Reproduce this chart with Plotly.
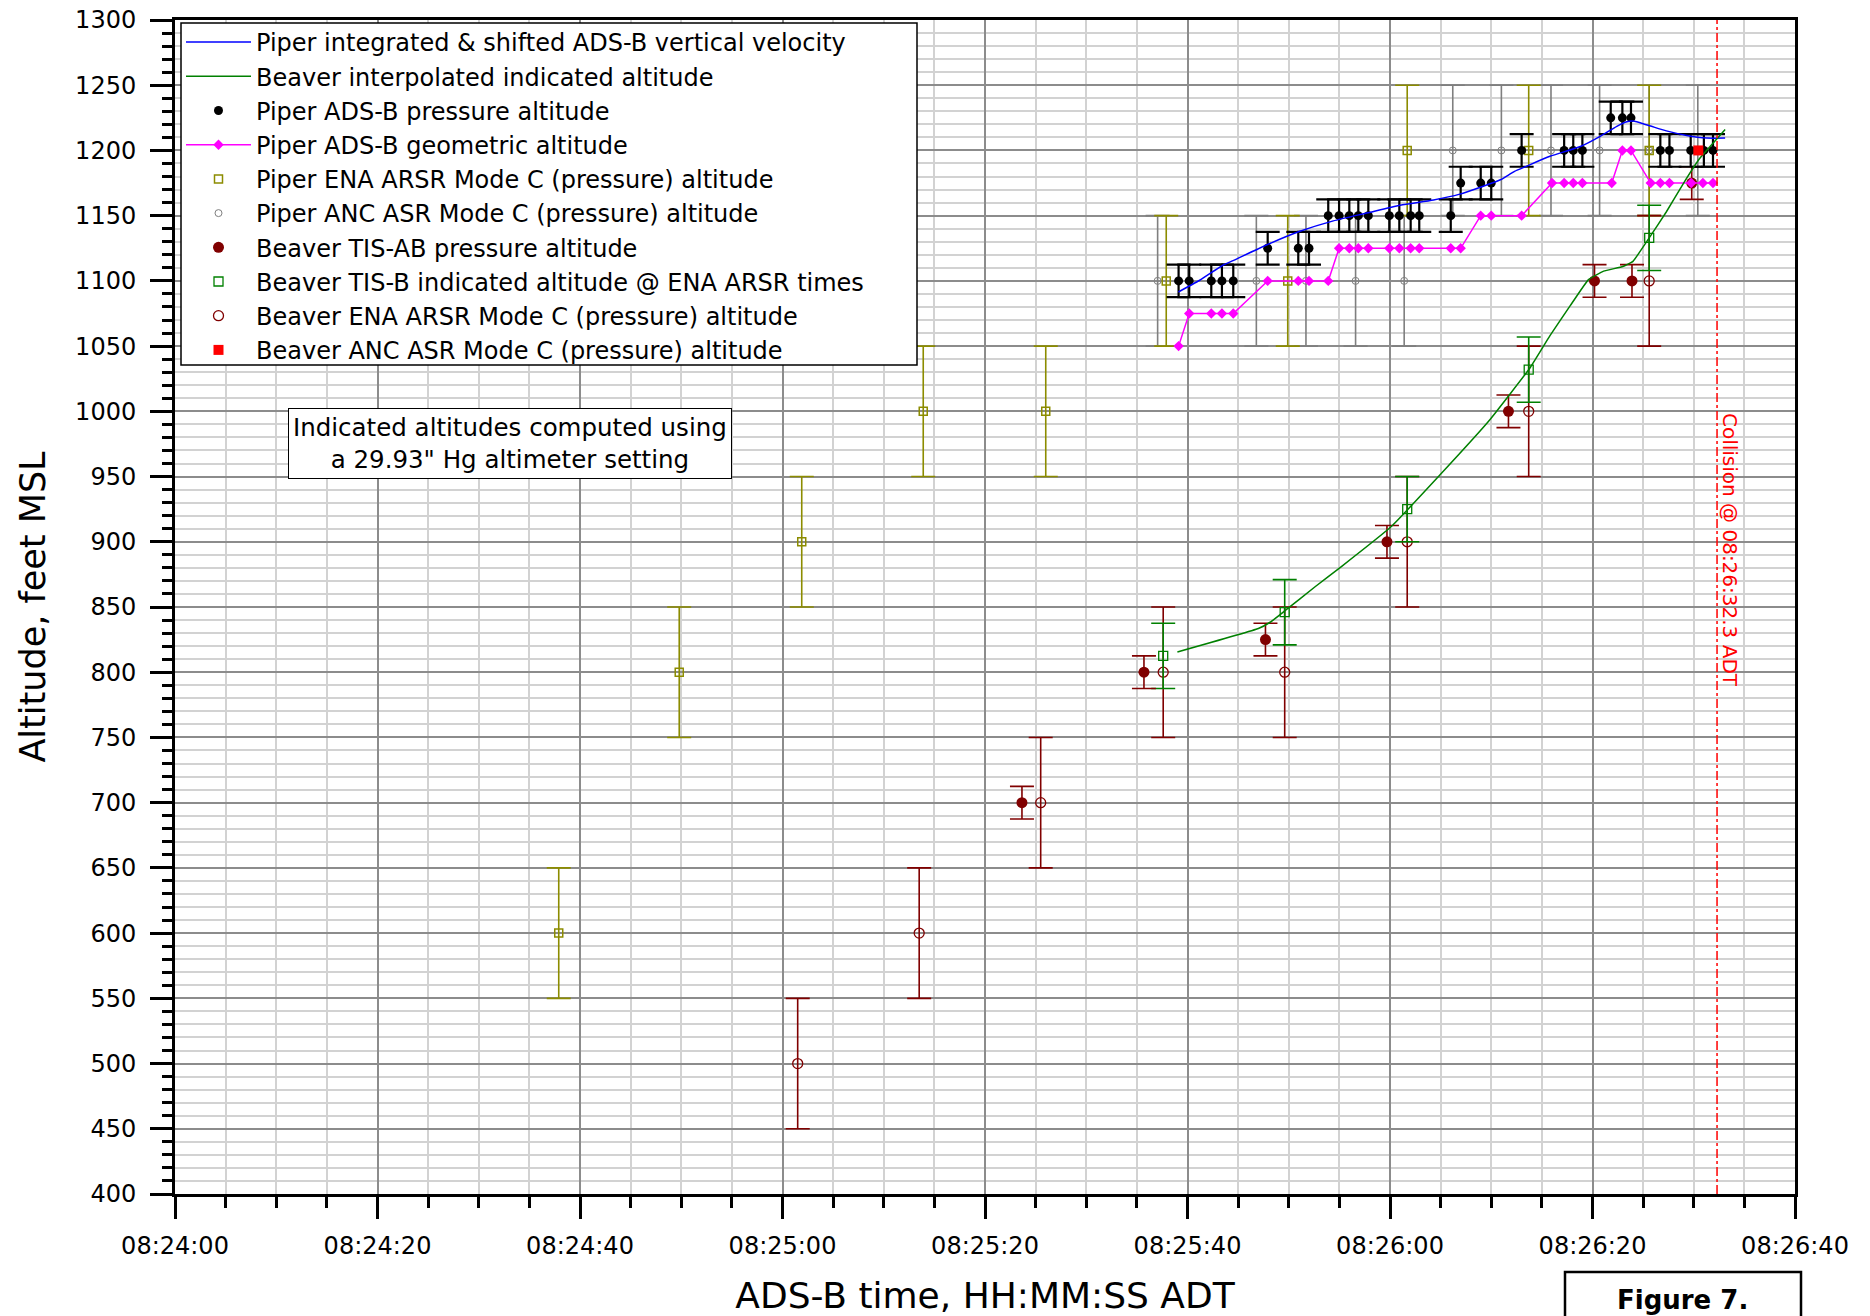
import plotly.graph_objects as go

DAY = "2020-07-31 "
FONT = "DejaVu Sans"

# ---------------- data (clock times ADT, altitudes in feet) ----------------
PIPER_VV_T = ["08:25:39.1", "08:25:41.2", "08:25:43.5", "08:25:44.5", "08:25:47.8", "08:25:51.1",
              "08:25:54.4", "08:25:57.7", "08:26:01.0", "08:26:04.3", "08:26:06.9", "08:26:09.0",
              "08:26:10.9", "08:26:12.3", "08:26:13.5", "08:26:15.8", "08:26:18.8", "08:26:20.8",
              "08:26:22.4", "08:26:23.4", "08:26:24.0", "08:26:25.4", "08:26:27.3", "08:26:29.3",
              "08:26:31.3", "08:26:33.1"]
PIPER_VV_ALT = [1091.5, 1100.5, 1112, 1115.5, 1127.5, 1138, 1146, 1152, 1158, 1162, 1166.5, 1172,
                1177.5, 1184, 1188, 1195.5, 1203, 1211, 1218.5, 1222, 1222.5, 1219.5, 1215, 1211.5,
                1209.5, 1209.5]

BEAVER_INTERP_T = ["08:25:39.0", "08:25:47.0", "08:25:48.2", "08:25:49.6", "08:25:52.6", "08:25:55.2",
                   "08:26:00.1", "08:26:04.9", "08:26:09.8", "08:26:13.8", "08:26:15.8", "08:26:17.8",
                   "08:26:19.6", "08:26:21.1", "08:26:23.0", "08:26:24.0", "08:26:25.6", "08:26:27.3",
                   "08:26:29.0", "08:26:30.6", "08:26:31.9", "08:26:33.1"]
BEAVER_INTERP_ALT = [815.5, 833.5, 838.5, 847, 865.5, 881, 911.5, 951, 993, 1033, 1058, 1081,
                     1101, 1107.5, 1111, 1115, 1133, 1153, 1175, 1194, 1205.5, 1216]

PIPER_PRESS_T = ["08:25:39.12", "08:25:40.17", "08:25:42.35", "08:25:43.40", "08:25:44.52",
                 "08:25:47.92", "08:25:50.94", "08:25:52.00", "08:25:53.90", "08:25:54.97",
                 "08:25:55.98", "08:25:56.87", "08:25:57.86", "08:25:59.93", "08:26:00.92",
                 "08:26:02.04", "08:26:02.89", "08:26:06.00", "08:26:06.98", "08:26:08.96",
                 "08:26:10.00", "08:26:13.00", "08:26:17.20", "08:26:18.10", "08:26:19.00",
                 "08:26:21.80", "08:26:22.95", "08:26:23.80", "08:26:26.70", "08:26:27.60",
                 "08:26:29.70", "08:26:31.00", "08:26:31.90"]
PIPER_PRESS_ALT = [1100, 1100, 1100, 1100, 1100, 1125, 1125, 1125, 1150, 1150, 1150, 1150, 1150,
                   1150, 1150, 1150, 1150, 1150, 1175, 1175, 1175, 1200, 1200, 1200, 1200, 1225,
                   1225, 1225, 1200, 1200, 1200, 1200, 1200]
PIPER_PRESS_ERR = 12.5

PIPER_GEO_T = ["08:25:39.12", "08:25:40.17", "08:25:42.35", "08:25:43.40", "08:25:44.52",
               "08:25:47.92", "08:25:50.94", "08:25:52.00", "08:25:53.90", "08:25:54.97",
               "08:25:55.98", "08:25:56.87", "08:25:57.86", "08:25:59.93", "08:26:00.92",
               "08:26:02.04", "08:26:02.89", "08:26:06.00", "08:26:06.98", "08:26:08.96",
               "08:26:10.00", "08:26:13.00", "08:26:16.00", "08:26:17.20", "08:26:18.10",
               "08:26:19.00", "08:26:21.90", "08:26:22.95", "08:26:23.80", "08:26:25.75",
               "08:26:26.70", "08:26:27.60", "08:26:29.75", "08:26:30.90", "08:26:31.90"]
PIPER_GEO_ALT = [1050, 1075, 1075, 1075, 1075, 1100, 1100, 1100, 1100, 1125, 1125, 1125, 1125,
                 1125, 1125, 1125, 1125, 1125, 1125, 1150, 1150, 1150, 1175, 1175, 1175, 1175,
                 1175, 1200, 1200, 1175, 1175, 1175, 1175, 1175, 1175]

PIPER_ENA_T = ["08:24:37.9", "08:24:49.8", "08:25:01.9", "08:25:13.9", "08:25:26.0",
               "08:25:37.9", "08:25:49.9", "08:26:01.7", "08:26:13.7", "08:26:25.6"]
PIPER_ENA_ALT = [600, 800, 900, 1000, 1000, 1100, 1100, 1200, 1200, 1200]
PIPER_ENA_ERR = 50

PIPER_ANC_T = ["08:25:37.05", "08:25:46.8", "08:25:51.7", "08:25:56.6", "08:26:01.4", "08:26:06.2",
               "08:26:11.0", "08:26:15.9", "08:26:20.7", "08:26:25.6", "08:26:30.4"]
PIPER_ANC_ALT = [1100, 1100, 1100, 1100, 1100, 1200, 1200, 1200, 1200, 1200, 1200]
PIPER_ANC_ERR = 50

BEAVER_TISAB_T = ["08:25:23.65", "08:25:35.7", "08:25:47.7", "08:25:59.7", "08:26:11.7",
                  "08:26:20.2", "08:26:23.9", "08:26:29.8"]
BEAVER_TISAB_ALT = [700, 800, 825, 900, 1000, 1100, 1100, 1175]
BEAVER_TISAB_ERR = 12.5

BEAVER_TISB_T = ["08:25:37.6", "08:25:49.6", "08:26:01.7", "08:26:13.7", "08:26:25.6"]
BEAVER_TISB_ALT = [812.5, 846, 925, 1032, 1133]
BEAVER_TISB_ERR = 25

BEAVER_ENA_T = ["08:25:01.5", "08:25:13.5", "08:25:25.5", "08:25:37.6", "08:25:49.6",
                "08:26:01.7", "08:26:13.7", "08:26:25.6"]
BEAVER_ENA_ALT = [500, 600, 700, 800, 800, 900, 1000, 1100]
BEAVER_ENA_ERR = 50

BEAVER_ANC_T = ["08:26:30.45"]
BEAVER_ANC_ALT = [1200]

COLLISION_T = "08:26:32.3"
X_START, X_END = "08:24:00", "08:26:40"
Y_MIN, Y_MAX = 400, 1300


def clock(times):
    return [DAY + t for t in times]


fig = go.Figure()


def points(name, t, alt, err, symbol, size, color, lw, err_color, err_thick, rank, fill=None):
    fig.add_trace(go.Scatter(
        x=clock(t), y=alt, mode="markers", name=name, legendrank=rank,
        marker=dict(symbol=symbol, size=size, color=fill if fill else color,
                    line=dict(color=color, width=lw)),
        error_y=dict(type="data", array=[err] * len(alt), symmetric=True,
                     color=err_color, thickness=err_thick, width=12) if err else None,
    ))


OLIVE = "#8c8c00"
DARKRED = "#800000"
GREEN = "#008000"
GRAY = "#7f7f7f"

points("Piper ANC ASR Mode C (pressure) altitude", PIPER_ANC_T, PIPER_ANC_ALT, PIPER_ANC_ERR,
       "circle-open", 7, GRAY, 1, GRAY, 1.6, 6)
points("Piper ENA ARSR Mode C (pressure) altitude", PIPER_ENA_T, PIPER_ENA_ALT, PIPER_ENA_ERR,
       "square-open", 8, OLIVE, 1.5, OLIVE, 1.6, 5)
points("Beaver ENA ARSR Mode C (pressure) altitude", BEAVER_ENA_T, BEAVER_ENA_ALT, BEAVER_ENA_ERR,
       "circle-open", 10, DARKRED, 1.3, DARKRED, 1.6, 9)
points("Beaver TIS-B indicated altitude @ ENA ARSR times", BEAVER_TISB_T, BEAVER_TISB_ALT,
       BEAVER_TISB_ERR, "square-open", 9, GREEN, 1.3, GREEN, 1.6, 8)
points("Beaver TIS-AB pressure altitude", BEAVER_TISAB_T, BEAVER_TISAB_ALT, BEAVER_TISAB_ERR,
       "circle", 11, DARKRED, 0, DARKRED, 1.6, 7, fill=DARKRED)
points("Piper ADS-B pressure altitude", PIPER_PRESS_T, PIPER_PRESS_ALT, PIPER_PRESS_ERR,
       "circle", 9, "black", 0, "black", 2.2, 3, fill="black")

fig.add_trace(go.Scatter(
    x=clock(PIPER_GEO_T), y=PIPER_GEO_ALT, mode="lines+markers", name="Piper ADS-B geometric altitude",
    legendrank=4, line=dict(color="#ff00ff", width=1.5),
    marker=dict(symbol="diamond", size=8, color="#ff00ff")))
fig.add_trace(go.Scatter(
    x=clock(PIPER_VV_T), y=PIPER_VV_ALT, mode="lines",
    name="Piper integrated & shifted ADS-B vertical velocity", legendrank=1,
    line=dict(color="#0000ff", width=1.5, shape="spline", smoothing=0.6)))
fig.add_trace(go.Scatter(
    x=clock(BEAVER_INTERP_T), y=BEAVER_INTERP_ALT, mode="lines",
    name="Beaver interpolated indicated altitude", legendrank=2,
    line=dict(color=GREEN, width=1.5, shape="spline", smoothing=0.3)))
points("Beaver ANC ASR Mode C (pressure) altitude", BEAVER_ANC_T, BEAVER_ANC_ALT, None,
       "square", 10, "#ff0000", 0, None, 0, 10, fill="#ff0000")

W, H = 1870, 1316
L, R, T, B = 175, 75, 20, 122
PW, PH = W - L - R, H - T - B


def px(xp):  # pixel -> paper x
    return (xp - L) / PW


def py(yp):  # pixel -> paper y
    return 1 - (yp - T) / PH


axis_common = dict(showline=True, linecolor="black", linewidth=3, mirror=True,
                   ticks="outside", tickcolor="black", tickwidth=3, ticklen=22,
                   tickfont=dict(family=FONT, size=24, color="black"),
                   showgrid=True, zeroline=False, automargin=False)

fig.update_xaxes(
    **axis_common, type="date", range=[DAY + X_START, DAY + X_END],
    tick0=DAY + X_START, dtick=20000, tickformat="%H:%M:%S",
    gridcolor="#8c8c8c", gridwidth=1.5, ticklabelstandoff=6,
    minor=dict(dtick=5000, ticks="outside", ticklen=11, tickwidth=3, tickcolor="black",
               showgrid=True, gridcolor="#d2d2d2", gridwidth=1.5),
    title=dict(text="ADS-B time, HH:MM:SS ADT", font=dict(family=FONT, size=36, color="black"),
               standoff=25),
)
fig.update_yaxes(
    **axis_common, range=[Y_MIN, Y_MAX], tick0=Y_MIN, dtick=50,
    gridcolor="#8c8c8c", gridwidth=2, ticklabelstandoff=9,
    minor=dict(dtick=10, ticks="outside", ticklen=10, tickwidth=3, tickcolor="black",
               showgrid=True, gridcolor="#d2d2d2", gridwidth=2),
    title=dict(text="Altitude, feet MSL", font=dict(family=FONT, size=35, color="black"),
               standoff=19),
)

fig.update_layout(
    width=W, height=H, autosize=False, template="none",
    margin=dict(l=L, r=R, t=T, b=B, autoexpand=False),
    paper_bgcolor="white", plot_bgcolor="white",
    font=dict(family=FONT, color="black"),
    showlegend=True,
    legend=dict(x=px(181), y=1.0, xanchor="left", yanchor="top",
                bgcolor="rgba(0,0,0,0)", borderwidth=0, itemwidth=65,
                font=dict(family=FONT, size=24, color="black"), traceorder="normal"),
    shapes=[
        dict(type="rect", xref="paper", yref="paper", x0=px(181), x1=px(917), y0=py(23), y1=py(365),
             fillcolor="white", line=dict(color="black", width=1.5), layer="above"),
        dict(type="line", xref="x", yref="paper", x0=DAY + COLLISION_T, x1=DAY + COLLISION_T,
             y0=0, y1=1, line=dict(color="#ff0000", width=1.5, dash="dashdot"), layer="above"),
        dict(type="rect", xref="paper", yref="paper", x0=px(1565), x1=px(1801), y0=py(1272),
             y1=py(1340), fillcolor="white", line=dict(color="black", width=2.5)),
    ],
    annotations=[
        dict(xref="paper", yref="paper", x=px(510), y=py(443), xanchor="center", yanchor="middle",
             text='Indicated altitudes computed using<br>a 29.93" Hg altimeter setting',
             showarrow=False, align="center", bgcolor="white", bordercolor="black",
             borderwidth=1, borderpad=4, font=dict(family=FONT, size=24.5, color="black")),
        dict(xref="x", yref="paper", x=DAY + COLLISION_T, xshift=13, y=py(550), xanchor="center",
             yanchor="middle", text="Collision @ 08:26:32.3 ADT", textangle=90, showarrow=False,
             font=dict(family=FONT, size=20, color="#ff0000")),
        dict(xref="paper", yref="paper", x=px(1682), y=py(1300), xanchor="center", yanchor="middle",
             text="<b>Figure 7.</b>", showarrow=False,
             font=dict(family=FONT, size=26, color="black")),
    ],
)

fig.write_html("out.html")
